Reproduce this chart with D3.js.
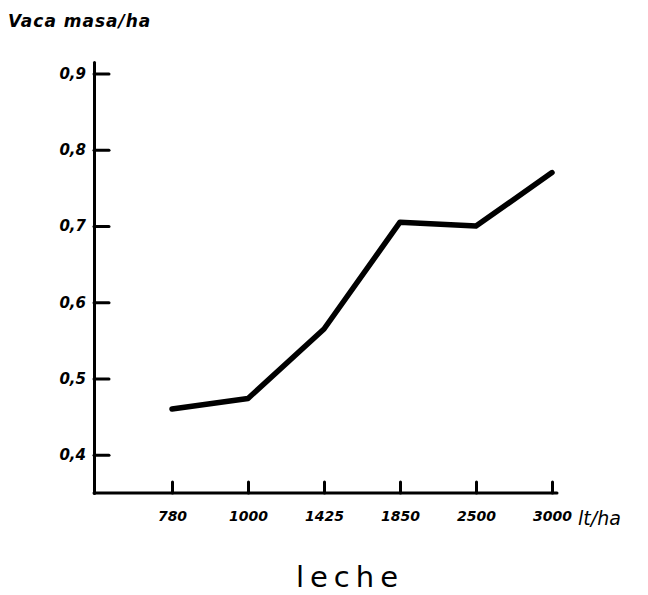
<!DOCTYPE html>
<html lang="es">
<head>
<meta charset="UTF-8" />
<title>Vaca masa/ha - leche</title>
<style>
  body { margin: 0; background: #fff; }
  svg text { font-family: "DejaVu Sans", sans-serif; fill: #000; }
  .axis path, .axis line { stroke: #000; stroke-width: 3; stroke-linecap: round; }
  .axis text { font-weight: bold; font-style: italic; }
  .yaxis text { font-size: 15px; }
  .xaxis text { font-size: 14px; }
  .data-line { fill: none; stroke: #000; stroke-width: 5.5; stroke-linecap: round; stroke-linejoin: round; }
</style>
</head>
<body>
<script src="https://cdn.jsdelivr.net/npm/d3@7"></script>
<script>
// leche (lt/ha) categories and vaca masa/ha values
var lecheLabels = ["780", "1000", "1425", "1850", "2500", "3000"];
var vacaValues = [0.46, 0.474, 0.565, 0.705, 0.70, 0.77];
var yTicks = [0.4, 0.5, 0.6, 0.7, 0.8, 0.9];

var w = 648, h = 595;

var svg = d3.select("body").append("svg")
  .attr("width", w)
  .attr("height", h);

var axisX = 94, axisY = 493;

var xScale = d3.scalePoint()
  .domain(lecheLabels)
  .range([172, 552]);

var yScale = d3.scaleLinear()
  .domain([0.35, 0.915])
  .range([axisY, 62]);

// y axis, ticks pointing into the plot
var yAxis = d3.axisLeft(yScale)
  .tickValues(yTicks)
  .tickSizeInner(-15)
  .tickSizeOuter(0)
  .tickPadding(8)
  .tickFormat(function(d) { return d.toFixed(1).replace(".", ","); });

svg.append("g")
  .attr("class", "axis yaxis")
  .attr("transform", "translate(" + axisX + ",0)")
  .call(yAxis);

// x axis, ticks point up
var xAxis = d3.axisBottom(xScale)
  .tickSizeInner(-11)
  .tickSizeOuter(0)
  .tickPadding(18);

var gx = svg.append("g")
  .attr("class", "axis xaxis")
  .attr("transform", "translate(0," + axisY + ")")
  .call(xAxis);
gx.select(".domain").remove();
gx.append("line")
  .attr("x1", axisX).attr("x2", 557)
  .attr("y1", 0).attr("y2", 0);

// data line
var line = d3.line()
  .x(function(d, i) { return xScale(lecheLabels[i]); })
  .y(function(d) { return yScale(d); });

svg.append("path")
  .datum(vacaValues)
  .attr("class", "data-line")
  .attr("d", line);

// labels
svg.append("text")
  .attr("x", 8).attr("y", 27)
  .style("font-size", "17px").style("font-weight", "bold").style("font-style", "italic")
  .style("letter-spacing", "1px")
  .text("Vaca masa/ha");

svg.append("text")
  .attr("x", 578).attr("y", 525)
  .style("font-size", "19px").style("font-style", "italic")
  .text("lt/ha");

svg.append("text")
  .attr("x", 350).attr("y", 587)
  .attr("text-anchor", "middle")
  .style("font-size", "29px")
  .style("letter-spacing", "6px")
  .text("leche");
</script>
</body>
</html>
